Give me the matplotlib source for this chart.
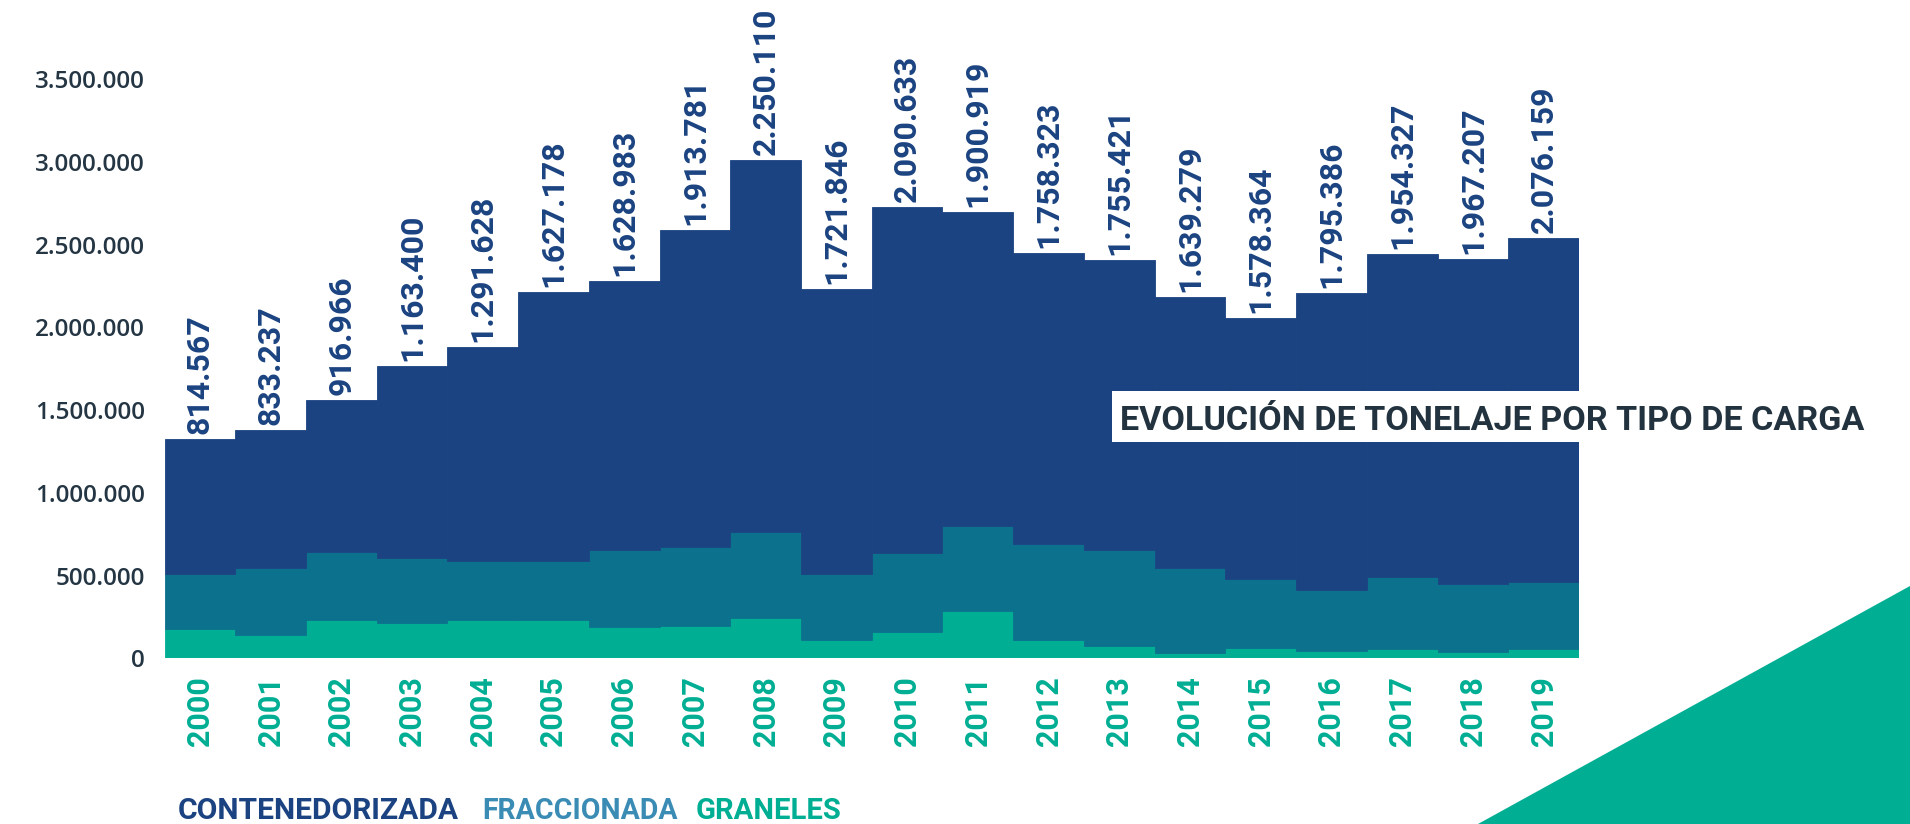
import matplotlib
matplotlib.use("Agg")
import matplotlib.pyplot as plt
import matplotlib.transforms as mtrans
from matplotlib.patches import Rectangle, Polygon

years = [str(y) for y in range(2000, 2020)]
contenedorizada = [814567, 833237, 916966, 1163400, 1291628, 1627178, 1628983, 1913781,
                   2250110, 1721846, 2090633, 1900919, 1758323, 1755421, 1639279, 1578364,
                   1795386, 1954327, 1967207, 2076159]
fraccionada = [333000, 405000, 411000, 391000, 356000, 356000, 466000, 478000, 521000, 397000,
               478000, 514000, 578000, 581000, 514000, 417000, 369000, 436000, 411000, 407000]
graneles = [177000, 141000, 232000, 215000, 232000, 232000, 189000, 195000, 244000, 113000,
            159000, 286000, 113000, 74000, 32000, 62000, 44000, 56000, 38000, 56000]
yticks = [0, 500000, 1000000, 1500000, 2000000, 2500000, 3000000, 3500000]
legend_labels = ["CONTENEDORIZADA", "FRACCIONADA", "GRANELES"]
title = "EVOLUCIÓN DE TONELAJE POR TIPO DE CARGA"

C_CONT = "#1b4381"
C_FRAC = "#0b718d"
C_GRAN = "#00ae93"
C_FRAC_TXT = "#3a8cb5"
C_TXT = "#243543"

W, H = 1910, 824
fig = plt.figure(figsize=(W / 100, H / 100), dpi=100)
fig.patch.set_facecolor("white")


def fx(x):
    return x / W


def fy(y):
    return 1 - y / H


left, right = 164.5, 1579
base = 658.3
ymax = 3600000
px_per = 82.7 / 500000
top = base - ymax * px_per
ax = fig.add_axes([fx(left), fy(base), (right - left) / W, (base - top) / H])
ax.set_xlim(-0.5, len(years) - 0.5)
ax.set_ylim(0, ymax)
for s in ax.spines.values():
    s.set_visible(False)
ax.set_facecolor("none")

x = list(range(len(years)))
bot2 = graneles
bot3 = [g + f for g, f in zip(graneles, fraccionada)]
kw = dict(width=1.0, linewidth=0.6)
ax.bar(x, graneles, color=C_GRAN, edgecolor=C_GRAN, **kw)
ax.bar(x, fraccionada, bottom=bot2, color=C_FRAC, edgecolor=C_FRAC, **kw)
ax.bar(x, contenedorizada, bottom=bot3, color=C_CONT, edgecolor=C_CONT, **kw)


def fmt(v):
    return f"{v:,}".replace(",", ".")


for i, v in enumerate(contenedorizada):
    total = bot3[i] + v
    ax.annotate(fmt(v), (i, total), xytext=(0, 3.6), textcoords="offset points",
                rotation=90, ha="center", va="bottom", color=C_CONT,
                fontsize=23, fontweight="bold", family="Roboto", annotation_clip=False)

ax.set_yticks(yticks)
ax.set_yticklabels([fmt(v) for v in yticks], family="Open Sans", fontsize=17.5,
                   color=C_TXT, fontweight="semibold")
ax.set_xticks(x)
ax.set_xticklabels(years, rotation=90, family="Roboto", fontweight="bold",
                   fontsize=22, color=C_GRAN)
ax.tick_params(axis="y", length=0, pad=14)
ax.tick_params(axis="x", length=0, pad=13)
for lab in ax.get_yticklabels():
    lab.set_va("top")
    lab.set_transform(lab.get_transform() + mtrans.ScaledTranslation(0, 9 / 100, fig.dpi_scale_trans))

# triangle decoration
fig.patches.append(Polygon([(fx(1478), fy(824)), (fx(1910), fy(586)), (fx(1910), fy(824))],
                           closed=True, transform=fig.transFigure, facecolor=C_GRAN,
                           edgecolor="none", zorder=1))

# title box
fig.patches.append(Rectangle((fx(1112), fy(442)), (1870 - 1112) / W, (442 - 391) / H,
                             transform=fig.transFigure, facecolor="white", edgecolor="none",
                             zorder=2))

renderer = fig.canvas.get_renderer()


def fit_text(txt, x0, x1, ybase, color, size0=24):
    t = fig.text(fx(x0), fy(ybase), txt, ha="left", va="baseline", color=color,
                 family="Roboto", fontweight="bold", fontsize=size0, zorder=3)
    bb = t.get_window_extent(renderer)
    t.set_fontsize(size0 * (x1 - x0) / bb.width)
    bb = t.get_window_extent(renderer)
    t.set_x(fx(x0) - (bb.x0 - fx(x0) * W) / W)
    return t


fit_text(title, 1120, 1866, 430, "#22333f")
fit_text(legend_labels[0], 178, 459, 819, C_CONT)
fit_text(legend_labels[1], 482, 678, 819, C_FRAC_TXT)
fit_text(legend_labels[2], 696, 842, 819, C_GRAN)

fig.savefig("out.png", dpi=100, facecolor="white")
